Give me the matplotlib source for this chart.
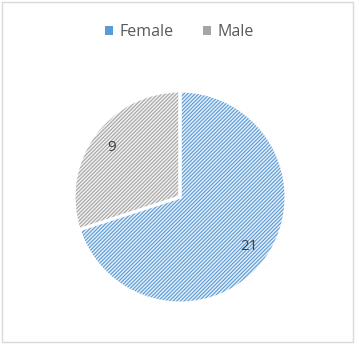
import matplotlib
matplotlib.use("Agg")
import matplotlib.pyplot as plt
from matplotlib.patches import Patch

categories = ["Female", "Male"]
values = [21, 9]
hatch_colors = ["#5b9bd5", "#a5a5a5"]
face_colors = ["#e3eef9", "#f0f0f0"]

plt.rcParams['font.family'] = ['Open Sans', 'DejaVu Sans']
plt.rcParams['hatch.linewidth'] = 0.8

fig = plt.figure(figsize=(3.59, 3.45), dpi=100)
W, H = 359, 345
cx, cy, r = 180, 197, 106
ax = fig.add_axes([(cx - r) / W, (H - cy - r) / H, 2 * r / W, 2 * r / H])

wedges, texts, autotexts = ax.pie(
    values, startangle=90, counterclock=False, colors=face_colors,
    autopct=lambda p: f"{round(p * sum(values) / 100):d}", pctdistance=0.8,
    wedgeprops=dict(linewidth=0),
    textprops=dict(fontsize=11, color="#404040"))
for w, hc in zip(wedges, hatch_colors):
    w.set_hatch("/////////")
    w.set_edgecolor(hc)
    w.set_linewidth(0)

ax.pie(values, startangle=90, counterclock=False,
       wedgeprops=dict(fill=False, edgecolor="white", linewidth=2.2))
ax.set_xlim(-1, 1)
ax.set_ylim(-1, 1)
ax.set_aspect("equal")

handles = [Patch(facecolor=hc, edgecolor=hc, linewidth=0) for hc in hatch_colors]
fig.legend(handles, categories, loc="center", bbox_to_anchor=(0.5, 1 - 32 / H),
           ncol=2, frameon=False, fontsize=11.5, labelcolor="#595959",
           handlelength=0.5, handleheight=0.5, handletextpad=0.45, columnspacing=1.8)

border = plt.Rectangle((1.5 / W, 3 / H), (353 - 1.5) / W, (343 - 3) / H,
                       transform=fig.transFigure, fill=False,
                       edgecolor="#d9d9d9", linewidth=1)
fig.add_artist(border)

fig.savefig("out.png", dpi=100)
